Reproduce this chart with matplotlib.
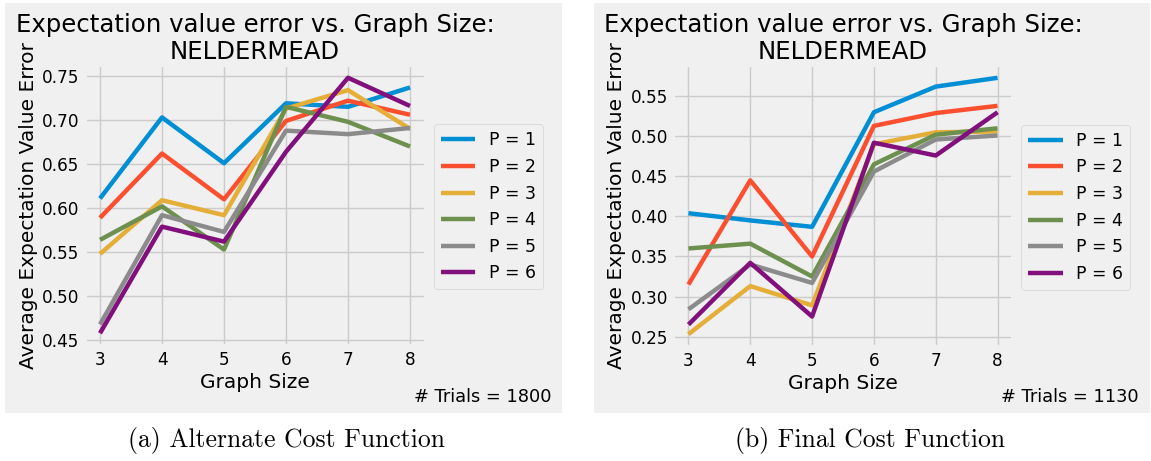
import matplotlib
matplotlib.use("Agg")
import matplotlib.pyplot as plt
from matplotlib.patches import Rectangle

plt.style.use('fivethirtyeight')
plt.rcParams['font.size'] = 12.2
plt.rcParams['axes.titlesize'] = 17.6
plt.rcParams['axes.labelsize'] = 14.5
plt.rcParams['legend.fontsize'] = 12.4
plt.rcParams['lines.linewidth'] = 3.2

graph_sizes = [3, 4, 5, 6, 7, 8]
p_labels = ['P = 1', 'P = 2', 'P = 3', 'P = 4', 'P = 5', 'P = 6']

# (a) alternate cost function
alt_p1 = [0.611, 0.703, 0.651, 0.719, 0.715, 0.737]
alt_p2 = [0.589, 0.662, 0.610, 0.699, 0.722, 0.706]
alt_p3 = [0.548, 0.609, 0.592, 0.713, 0.734, 0.690]
alt_p4 = [0.564, 0.602, 0.553, 0.715, 0.698, 0.670]
alt_p5 = [0.468, 0.592, 0.573, 0.688, 0.684, 0.691]
alt_p6 = [0.458, 0.579, 0.562, 0.664, 0.748, 0.716]

# (b) final cost function
fin_p1 = [0.404, 0.395, 0.387, 0.530, 0.562, 0.573]
fin_p2 = [0.315, 0.445, 0.350, 0.513, 0.529, 0.538]
fin_p3 = [0.253, 0.313, 0.289, 0.490, 0.505, 0.506]
fin_p4 = [0.360, 0.366, 0.325, 0.465, 0.502, 0.510]
fin_p5 = [0.284, 0.340, 0.317, 0.456, 0.496, 0.501]
fin_p6 = [0.265, 0.342, 0.275, 0.492, 0.476, 0.530]

W, H = 1151, 461
fig = plt.figure(figsize=(W / 100, H / 100), dpi=100)
fig.patch.set_facecolor('white')

# grey panels behind each sub-figure
for x0, x1 in [(5, 562), (594, 1150)]:
    fig.patches.append(Rectangle((x0 / W, 1 - 413 / H), (x1 - x0) / W, 410 / H,
                                 transform=fig.transFigure, facecolor='#f0f0f0',
                                 edgecolor='none', zorder=-5))


def panel(rect, series, trials, trials_x, caption, caption_x):
    ax = fig.add_axes([rect[0] / W, 1 - rect[3] / H, (rect[2] - rect[0]) / W,
                       (rect[3] - rect[1]) / H])
    for vals, lab in zip(series, p_labels):
        ax.plot(graph_sizes, vals, label=lab)
    ax.set_xticks(graph_sizes)
    ax.set_title('Expectation value error vs. Graph Size:\nNELDERMEAD', pad=4)
    ax.set_xlabel('Graph Size', labelpad=3)
    ax.set_ylabel('Average Expectation Value Error', labelpad=3)
    ax.legend(loc='center left', bbox_to_anchor=(0.999, 0.495))
    fig.text(trials_x / W, 1 - 397 / H, '# Trials = %d' % trials,
             ha='right', va='center', fontsize=12.8)
    fig.text(caption_x / W, 1 - 440 / H, caption, ha='center', va='center',
             family='cmr10', fontsize=18.5)
    return ax


ax1 = panel((84.5, 65, 425.5, 346), [alt_p1, alt_p2, alt_p3, alt_p4, alt_p5, alt_p6],
            1800, 552, '(a) Alternate Cost Function', 286)
ax1.set_yticks([0.45, 0.50, 0.55, 0.60, 0.65, 0.70, 0.75])

ax2 = panel((673, 65, 1013, 347), [fin_p1, fin_p2, fin_p3, fin_p4, fin_p5, fin_p6],
            1130, 1139, '(b) Final Cost Function', 870)
ax2.set_yticks([0.25, 0.30, 0.35, 0.40, 0.45, 0.50, 0.55])

fig.savefig('out.png', dpi=100, facecolor='white')
